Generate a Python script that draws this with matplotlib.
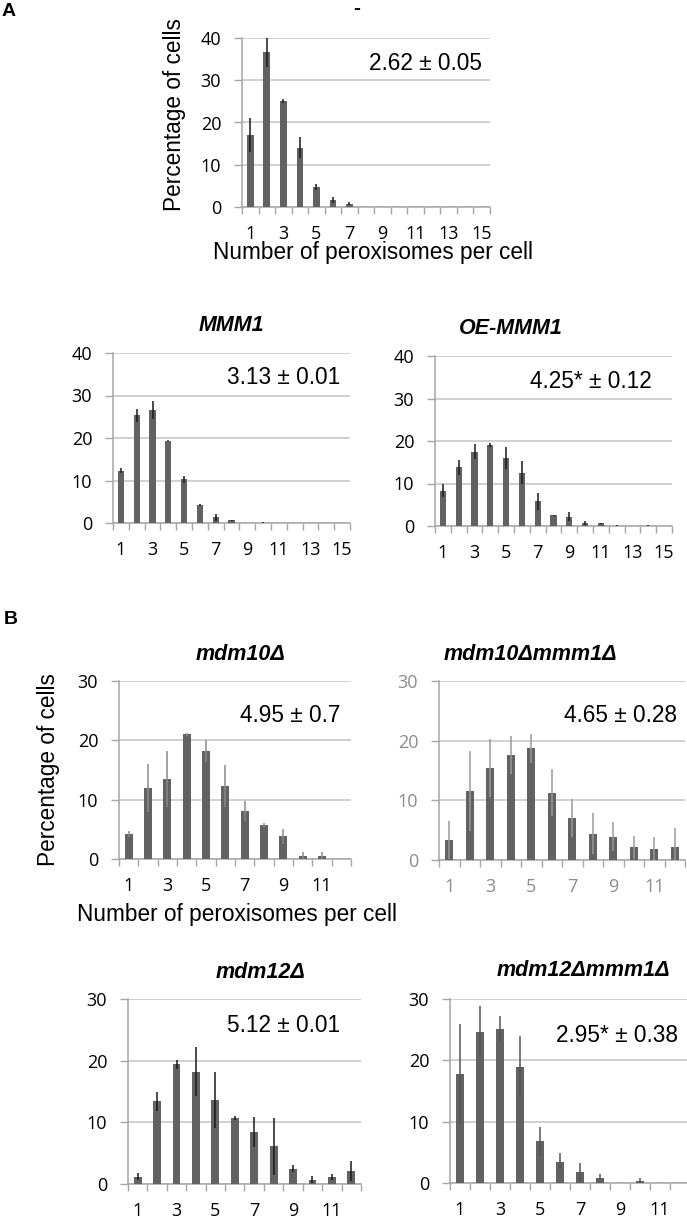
import numpy as np
import matplotlib
matplotlib.use("Agg")
import matplotlib.pyplot as plt

# ---- data ----
cats15 = list(range(1, 16))
cats12 = list(range(1, 13))

wt_vals = [17.0, 36.7, 25.0, 14.0, 4.8, 1.6, 0.8, 0, 0, 0, 0, 0, 0, 0, 0]
wt_err = [4.0, 3.5, 0.5, 2.5, 0.7, 0.7, 0.3, 0, 0, 0, 0, 0, 0, 0, 0]

mmm1_vals = [12.3, 25.3, 26.6, 19.4, 10.3, 4.2, 1.3, 0.6, 0, 0.1, 0, 0, 0, 0, 0]
mmm1_err = [0.6, 1.5, 2.2, 0.1, 0.8, 0.3, 0.8, 0.2, 0, 0.1, 0, 0, 0, 0, 0]

oe_vals = [8.3, 13.8, 17.5, 19.1, 16.0, 12.5, 5.8, 2.5, 2.2, 0.7, 0.6, 0.1, 0, 0.1, 0]
oe_err = [1.5, 1.7, 1.8, 0.5, 2.7, 2.7, 2.0, 0.1, 1.0, 0.4, 0.1, 0.1, 0, 0.1, 0]

mdm10_vals = [4.2, 12.0, 13.5, 21.0, 18.2, 12.3, 8.1, 5.7, 3.8, 0.5, 0.5, 0]
mdm10_err = [0.5, 4.0, 4.7, 0.3, 1.8, 3.5, 1.7, 0.3, 1.2, 0.6, 0.6, 0]

mdm10mmm1_vals = [3.3, 11.5, 15.4, 17.6, 18.7, 11.3, 7.0, 4.4, 3.9, 2.1, 1.8, 2.1]
mdm10mmm1_err = [3.2, 6.7, 4.8, 3.2, 2.5, 4.0, 3.2, 3.4, 2.4, 2.0, 2.1, 3.2]

mdm12_vals = [1.2, 13.4, 19.4, 18.2, 13.6, 10.7, 8.4, 6.1, 2.5, 0.7, 1.1, 2.1]
mdm12_err = [0.6, 1.6, 0.7, 4.0, 4.5, 0.3, 2.4, 4.6, 0.6, 0.6, 0.5, 1.6]

mdm12mmm1_vals = [17.8, 24.7, 25.1, 18.9, 6.8, 3.5, 1.8, 0.8, 0.05, 0.3, 0, 0]
mdm12mmm1_err = [8.2, 4.1, 2.1, 5.1, 2.4, 1.4, 1.4, 0.6, 0, 0.5, 0, 0]

W, H = 687, 1218
fig = plt.figure(figsize=(W / 100, H / 100), dpi=100)

ARIAL = "Liberation Sans"
TICKF = "Open Sans"
BAR = "#626262"
GRID = "#c4c4c4"
AXC = "#a6a6a6"
TITLE_FS = 15.5
LABEL_FS = 16.3
NOTE_FS = 16.3


def box(l, r, t, b):
    return [l / W, 1 - b / H, (r - l) / W, (b - t) / H]


def panel(rect, cats, vals, errs, ymax, note, note_xy, ecolor="#1a1a1a", tickcolor="black"):
    ax = fig.add_axes(box(*rect))
    ax.bar(cats, vals, width=0.4, color=BAR, zorder=3)
    ax.errorbar(cats, vals, yerr=errs, fmt="none", ecolor=ecolor,
                elinewidth=1.1, capsize=0, zorder=4)
    n = len(cats)
    ax.set_xlim(0.5, n + 0.5)
    ax.set_ylim(0, ymax)
    ax.set_yticks(range(0, ymax + 1, 10))
    ax.yaxis.grid(True, color=GRID, lw=1.1)
    ax.set_axisbelow(True)
    for s in ["top", "right"]:
        ax.spines[s].set_visible(False)
    for s in ["left", "bottom"]:
        ax.spines[s].set_color(AXC)
        ax.spines[s].set_linewidth(1.1)
    odd = [c for c in cats if c % 2 == 1]
    ax.set_xticks(odd)
    ax.set_xticklabels([str(c) for c in odd], family=TICKF, fontsize=13, color=tickcolor)
    ax.set_xticks(np.arange(0.5, n + 1), minor=True)
    ax.tick_params(axis="x", which="major", length=0, pad=13)
    ax.tick_params(axis="x", which="minor", length=5, color=AXC, width=1)
    ax.tick_params(axis="y", length=6, color=AXC, width=1, pad=9)
    for t in ax.get_yticklabels():
        t.set_family(TICKF)
        t.set_fontsize(13)
        t.set_color(tickcolor)
    fig.text(note_xy[0] / W, 1 - note_xy[1] / H, note, family=ARIAL, fontsize=NOTE_FS,
             ha="right", va="center")
    return ax


def title(x, y, s):
    fig.text(x / W, 1 - y / H, s, family=ARIAL, fontsize=TITLE_FS, fontweight="bold",
             style="italic", ha="center", va="center")


# ---- panel A ----
fig.text(2 / W, 1 - 12 / H, "A", family=ARIAL, fontsize=14, fontweight="bold", va="center")
fig.text(357 / W, 1 - 8 / H, "-", family=ARIAL, fontsize=15, fontweight="bold",
         ha="center", va="center")
panel((242, 490, 38, 207), cats15, wt_vals, wt_err, 40, "2.62 ± 0.05", (482, 64))
fig.text(174 / W, 1 - 115 / H, "Percentage of cells", family=ARIAL, fontsize=LABEL_FS,
         rotation=90, ha="center", va="center")
fig.text(373 / W, 1 - 253 / H, "Number of peroxisomes per cell", family=ARIAL,
         fontsize=LABEL_FS, ha="center", va="center")

title(231, 325, "MMM1")
panel((113, 350, 353, 523), cats15, mmm1_vals, mmm1_err, 40, "3.13 ± 0.01", (340, 378))

title(511, 328, "OE-MMM1")
panel((435, 672, 356, 526), cats15, oe_vals, oe_err, 40, "4.25* ± 0.12", (652, 382))

# ---- panel B ----
fig.text(4 / W, 1 - 620 / H, "B", family=ARIAL, fontsize=14, fontweight="bold", va="center")

title(240, 655, "mdm10Δ")
panel((119, 351, 681, 859), cats12, mdm10_vals, mdm10_err, 30, "4.95 ± 0.7", (340, 715),
      ecolor="#8a8a8a")
fig.text(49 / W, 1 - 770 / H, "Percentage of cells", family=ARIAL, fontsize=LABEL_FS,
         rotation=90, ha="center", va="center")
fig.text(237 / W, 1 - 914 / H, "Number of peroxisomes per cell", family=ARIAL,
         fontsize=LABEL_FS, ha="center", va="center")

title(530, 655, "mdm10Δmmm1Δ")
panel((439, 685, 681, 860), cats12, mdm10mmm1_vals, mdm10mmm1_err, 30, "4.65 ± 0.28",
      (677, 715), ecolor="#9a9a9a", tickcolor="#8c8c8c")

title(260, 973, "mdm12Δ")
panel((128, 361, 999, 1184), cats12, mdm12_vals, mdm12_err, 30, "5.12 ± 0.01", (340, 1026))

title(583, 970, "mdm12Δmmm1Δ")
panel((450, 690, 999, 1183), cats12, mdm12mmm1_vals, mdm12mmm1_err, 30, "2.95* ± 0.38",
      (678, 1035), ecolor="#555555")

fig.savefig("out.png", dpi=100)
